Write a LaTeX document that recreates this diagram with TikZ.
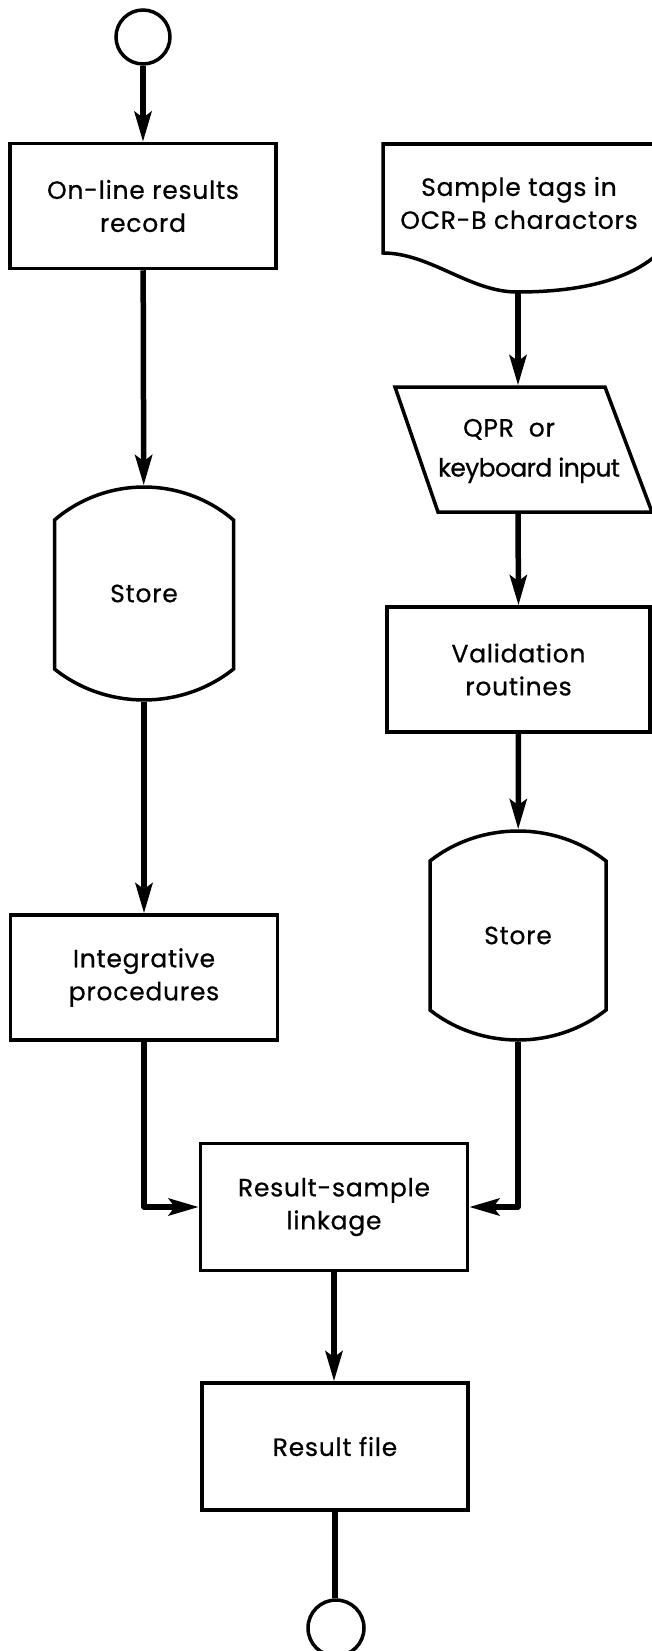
\documentclass[tikz,border=0pt]{standalone}
\usepackage{fontspec}
\setmainfont{Poppins}[LetterSpace=3, FakeBold=0.6]
\usetikzlibrary{arrows.meta}
\begin{document}
\begin{tikzpicture}[x=1pt,y=-1pt,
  every node/.style={font=\fontsize{25}{33}\selectfont, align=center, line width=3.5pt, inner sep=0pt},
  procbox/.style={draw, rectangle, line width=3.5pt, minimum width=266pt, minimum height=125pt},
  termcirc/.style={draw, circle, line width=3.5pt, minimum size=54pt},
  outline/.style={line width=3.5pt, line join=miter},
  conn/.style={line width=5.5pt, line join=round, -{Stealth[length=30pt,width=17pt,inset=6pt]}},
  plainconn/.style={line width=5.5pt}]
\useasboundingbox (0,0) rectangle (652,1651);

% left column
\node[termcirc] (start) at (143,37) {};
\node[procbox] (box1) at (143,206) {On-line results\\record};
\draw[outline] (54.5,520) .. controls (106.1,476) and (181.9,476) .. (233.5,520) -- (233.5,669)
  .. controls (181.9,710.3) and (106.1,710.3) .. (54.5,669) -- cycle;
\node[minimum width=179pt, minimum height=213pt] (store1) at (144,593.5) {Store};
\node[procbox, minimum width=267pt] (integ) at (144,977.5) {Integrative\\procedures};

% right column
\draw[outline] (662,250) .. controls (630,282) and (575,292) .. (517,292)
  .. controls (470,292) and (430,253) .. (383,253) -- (383,144) -- (662,144);
\node (doc) at (519,203) {Sample tags in\\OCR-B charactors};
\coordinate (docb) at (518,292);
\draw[outline] (395,387) -- (605,387) -- (652,512) -- (438,512) -- cycle;
\node[minimum width=200pt, minimum height=125pt] (qpr) at (518,449.5) {};
\node at (529,451) {QPR~~or\hspace*{40pt}\\[7pt]{\addfontfeature{LetterSpace=-2.5}keyboard input}};
\node[procbox, minimum width=263pt] (valid) at (518.5,669.5) {Validation\\routines};
\draw[outline] (430,861) .. controls (480.7,821) and (555.3,821) .. (606,861) -- (606,1010)
  .. controls (555.3,1050) and (480.7,1050) .. (430,1010) -- cycle;
\node[minimum width=176pt, minimum height=209pt] (store2) at (518,935.5) {Store};

% middle column
\node[procbox, minimum width=267pt, minimum height=127pt] (link) at (334,1207) {Result-sample\\linkage};
\node[procbox, minimum height=127pt] (rfile) at (335,1446.5) {Result file};
\node[termcirc, minimum size=56pt] (stop) at (336,1628) {};

% connectors
\draw[conn] (start) -- (box1);
\draw[conn] (box1) -- (store1);
\draw[conn] (store1) -- (integ);
\draw[conn] (integ.south) |- (link.west);
\draw[conn] (docb) -- (qpr.north);
\draw[conn] (qpr.south) -- (valid.north);
\draw[conn] (valid) -- (store2);
\draw[conn] (store2.south) |- (link.east);
\draw[conn] (link.south) -- (link.south |- rfile.north);
\draw[plainconn] (rfile.south) -- (rfile.south |- stop.north);
\end{tikzpicture}
\end{document}
